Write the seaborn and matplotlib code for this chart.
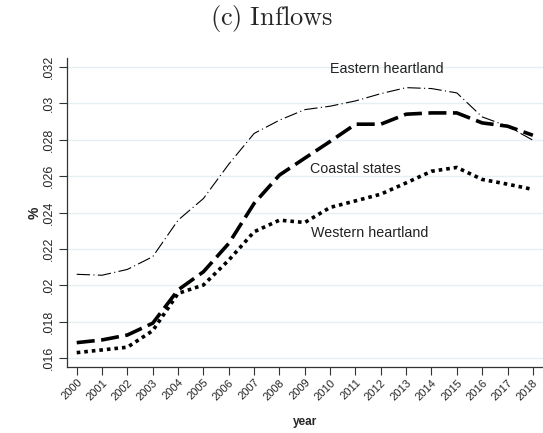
import matplotlib
matplotlib.use("Agg")
import matplotlib.pyplot as plt
import numpy as np
import pandas as pd
import seaborn as sns

years = list(range(2000, 2019))

eastern = [0.02060, 0.02055, 0.02087, 0.02157, 0.02358, 0.02477, 0.02666, 0.02835,
           0.02908, 0.02966, 0.02985, 0.03014, 0.03054, 0.03087, 0.03082, 0.03058,
           0.02926, 0.02875, 0.02798]
coastal = [0.01684, 0.01699, 0.01726, 0.01791, 0.01974, 0.02074, 0.02230, 0.02450,
           0.02606, 0.02699, 0.02791, 0.02886, 0.02886, 0.02941, 0.02948, 0.02948,
           0.02893, 0.02875, 0.02825]
western = [0.01629, 0.01644, 0.01659, 0.01750, 0.01955, 0.02001, 0.02138, 0.02294,
           0.02358, 0.02345, 0.02428, 0.02464, 0.02501, 0.02563, 0.02627, 0.02648,
           0.02582, 0.02556, 0.02527]

y_ticks = [0.016, 0.018, 0.020, 0.022, 0.024, 0.026, 0.028, 0.030, 0.032]
y_tick_labels = [".016", ".018", ".02", ".022", ".024", ".026", ".028", ".03", ".032"]

df = pd.DataFrame({
    "year": years * 3,
    "value": eastern + coastal + western,
    "region": ["Eastern heartland"] * 19 + ["Coastal states"] * 19 + ["Western heartland"] * 19,
})

sns.set_theme(style="white")
plt.rcParams["font.family"] = ["Liberation Sans", "DejaVu Sans"]
plt.rcParams["mathtext.fontset"] = "cm"

fig = plt.figure(figsize=(5.43, 4.33), dpi=100)
ax = fig.add_axes([0.1234, 0.1524, 0.8766, 0.7136])

styles = {
    "Eastern heartland": dict(lw=0.8, dashes=(12, 3, 1, 3)),
    "Coastal states": dict(lw=2.6, dashes=(5, 1.8)),
    "Western heartland": dict(lw=2.6, dashes=(1.0, 1.1)),
}
for name, st in styles.items():
    sub = df[df["region"] == name]
    sns.lineplot(data=sub, x="year", y="value", ax=ax, color="black",
                 linewidth=st["lw"], dashes=False, legend=False)
    ax.lines[-1].set_dashes(st["dashes"])

for yt in y_ticks:
    ax.axhline(yt, color="#e6eff1", lw=1.0, zorder=0)

ax.set_xlim(1999.617, 2018.4)
ax.set_ylim(0.0155, 0.0325)
ax.set_xticks(years)
ax.set_xticklabels([str(y) for y in years], rotation=45, ha="right",
                   rotation_mode="anchor", fontsize=8)
ax.set_yticks(y_ticks)
ax.set_yticklabels(y_tick_labels, rotation=90, va="center", fontsize=9)
ax.tick_params(axis="both", direction="out", length=5.5, width=0.8, color="#333333",
               bottom=True, left=True, pad=2)
ax.tick_params(axis="y", pad=3)
for s in ["top", "right"]:
    ax.spines[s].set_visible(False)
for s in ["left", "bottom"]:
    ax.spines[s].set_color("#333333")
    ax.spines[s].set_linewidth(0.9)

ax.set_xlabel("year", fontsize=8.5, fontweight="bold", labelpad=10)
ax.set_ylabel("%", fontsize=10, fontweight="bold", labelpad=1)

ax.text(2012.23, 0.03188, "Eastern heartland", fontsize=10.3, ha="center", va="center", color="#222222")
ax.text(2010.99, 0.02642, "Coastal states", fontsize=10.3, ha="center", va="center", color="#222222")
ax.text(2011.58, 0.02287, "Western heartland", fontsize=10.3, ha="center", va="center", color="#222222")

fig.text(0.501, 0.958, r"$\mathrm{(c)\ Inflows}$", ha="center", va="center", fontsize=19)

fig.savefig("out.png", dpi=100, facecolor="white")
